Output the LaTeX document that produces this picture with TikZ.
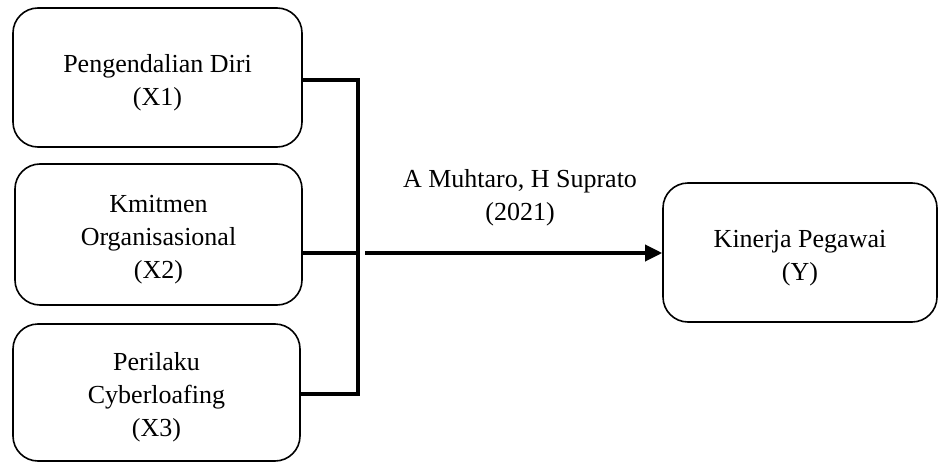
\documentclass[tikz,border=0pt]{standalone}
\usepackage{fontspec}
\setmainfont{Liberation Serif}
\usetikzlibrary{arrows.meta}
\newcommand{\topstrut}{\rule{0pt}{28pt}}
\begin{document}
\begin{tikzpicture}[x=1pt,y=-1pt,
  varbox/.style={draw=black, line width=1.6pt, rounded corners=25pt, align=center,
    inner sep=0pt, font=\fontsize{26}{33}\selectfont},
  conn/.style={draw=black, line width=3.5pt, line join=miter},
  lbl/.style={align=center, inner sep=0pt, font=\fontsize{26}{33}\selectfont}]
\useasboundingbox (0,0) rectangle (938,463);
\node[varbox, minimum width=289pt, minimum height=139pt] (b1) at (157.5,77.5) {\topstrut Pengendalian Diri\\(X1)};
\node[varbox, minimum width=287pt, minimum height=141pt] (b2) at (158.5,234.5) {\topstrut Kmitmen\\Organisasional\\(X2)};
\node[varbox, minimum width=287pt, minimum height=137pt] (b3) at (156.5,392.5) {\topstrut Perilaku\\Cyberloafing\\(X3)};
\node[varbox, minimum width=274pt, minimum height=139pt] (y) at (800,252.5) {\topstrut Kinerja Pegawai\\(Y)};
\node[lbl] (src) at (520,198) {A Muhtaro, H Suprato\\(2021)};
\coordinate (j1) at (358,80);
\coordinate (j3) at (358,394);
\coordinate (j2) at (359.5,253);
\coordinate (k2) at (365,253);
\draw[conn] (b1.east |- j1) -- (j1) -- (j3) -- (b3.east |- j3);
\draw[conn] (b2.east |- j2) -- (j2);
\draw[conn, -{Triangle[length=17pt,width=16pt]}] (k2) -- (y.west |- k2);
\end{tikzpicture}
\end{document}
